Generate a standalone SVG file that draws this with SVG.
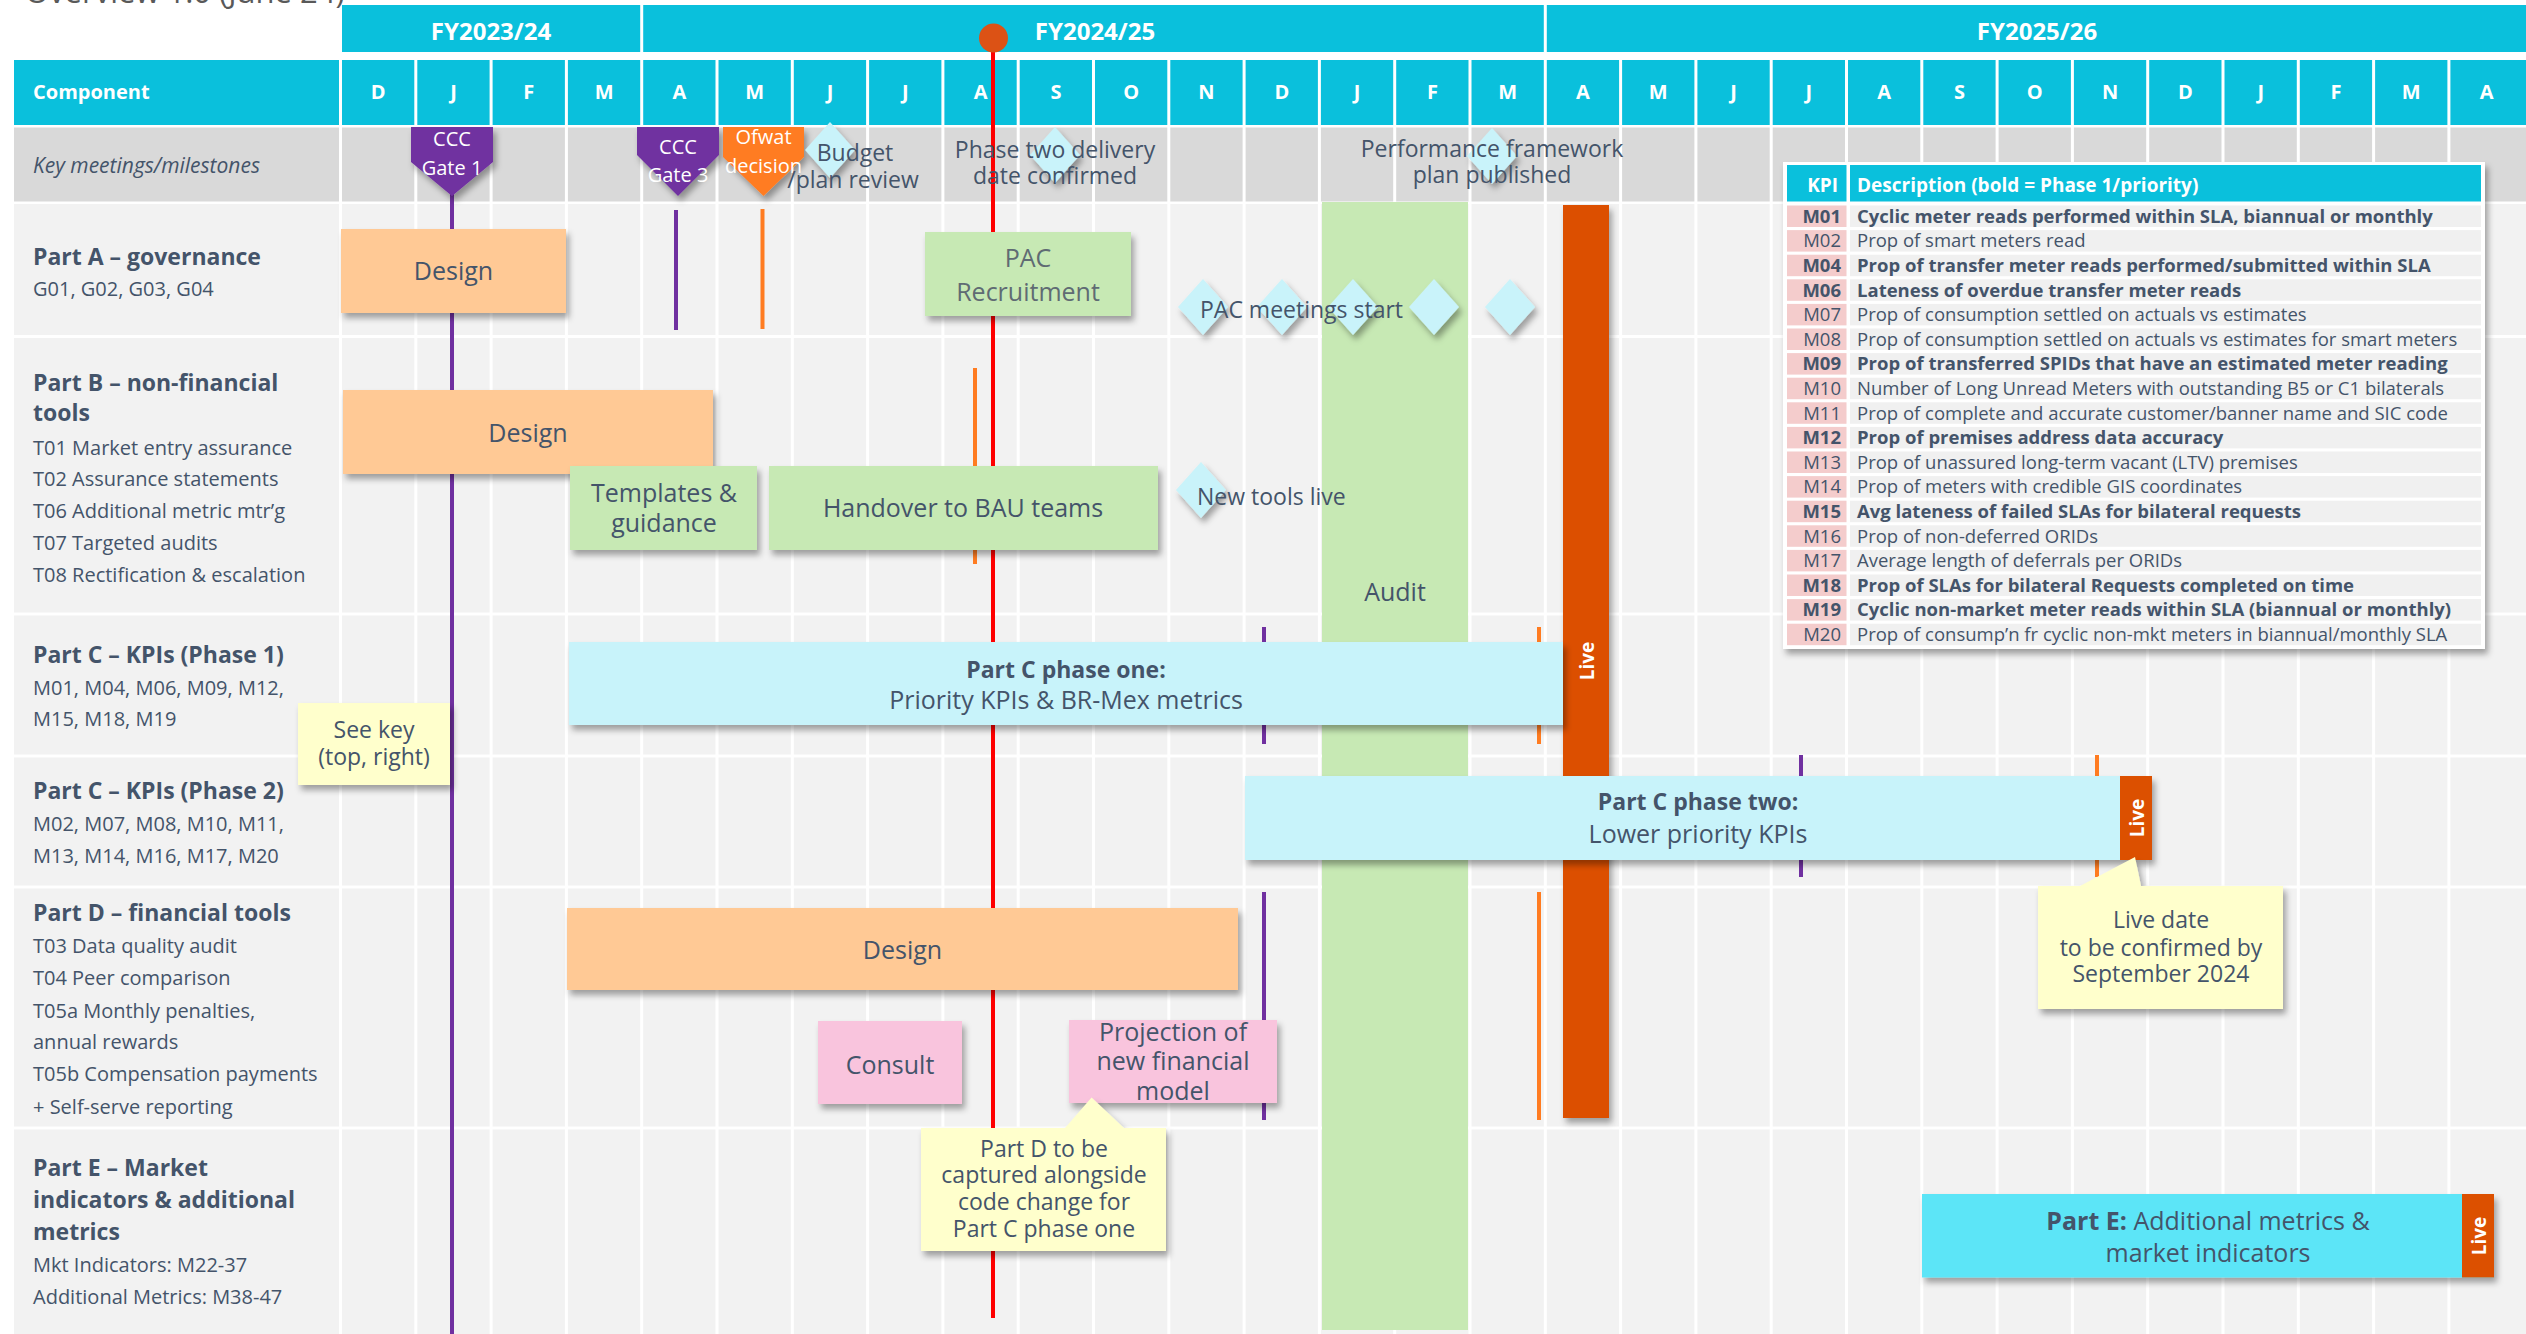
<svg xmlns="http://www.w3.org/2000/svg" width="2526" height="1334" viewBox="0 0 2526 1334">
<style>
.t{font-family:'Open Sans','Noto Sans','Liberation Sans',sans-serif;fill:#44546a}
.w{fill:#fff}
.b{font-weight:700}
.c{text-anchor:middle}
.e{text-anchor:end}
.sh{filter:url(#sh)}
.row{fill:#f2f2f2}
.hd{fill:#0ac0dc}
.peach{fill:#ffc995}
.green{fill:#c7e9b4}
.lcy{fill:#c8f3fa}
.pink{fill:#f9c4dd}
.note{fill:#ffffcc}
.live{fill:#dc5000}
.dia{fill:#c9f3fa}
.pur{stroke:#7030a0;stroke-width:4;fill:none}
.org{stroke:#ff7c21;stroke-width:4;fill:none}
.kp{fill:#f4cccc}
.kd{fill:#f0f0f0}
</style>
<defs>
<filter id="sh" x="-15%" y="-15%" width="140%" height="150%">
<feDropShadow dx="3" dy="5" stdDeviation="3" flood-color="#000" flood-opacity="0.35"/>
</filter>
<path id="dm" d="M0,-28 L25,0 L0,28 L-25,0Z"/>
</defs>
<rect width="2526" height="1334" fill="#fff"/>
<text class="t" x="25" y="3" font-size="31" style="fill:#595959">Overview 1.0 (June 24)</text>

<g id="grid">
<rect class="hd" x="342" y="5" width="2184" height="47"/>
<rect class="hd" x="14" y="60" width="2512" height="65"/>
<rect x="14" y="127.5" width="2512" height="74" fill="#d9d9d9"/>
<rect class="row" x="14" y="204" width="2512" height="131"/>
<rect class="row" x="14" y="338" width="2512" height="274.5"/>
<rect class="row" x="14" y="615.5" width="2512" height="139"/>
<rect class="row" x="14" y="757.5" width="2512" height="128"/>
<rect class="row" x="14" y="888.5" width="2512" height="238"/>
<rect class="row" x="14" y="1129.5" width="2512" height="204.5"/>
<path d="M641.7 5V52M1545.3 5V52" stroke="#fff" stroke-width="3"/>
<path d="M340.5 60V1334M415.8 60V1334M491.1 60V1334M566.4 60V1334M641.7 60V1334M717 60V1334M792.3 60V1334M867.6 60V1334M942.9 60V1334M1018.2 60V1334M1093.5 60V1334M1168.8 60V1334M1244.1 60V1334M1319.4 60V1334M1394.7 60V1334M1470 60V1334M1545.3 60V1334M1620.6 60V1334M1695.9 60V1334M1771.2 60V1334M1846.5 60V1334M1921.8 60V1334M1997.1 60V1334M2072.4 60V1334M2147.7 60V1334M2223 60V1334M2298.3 60V1334M2373.6 60V1334M2448.9 60V1334" stroke="#fff" stroke-width="3"/>
</g>

<g id="header" class="t w b" font-size="20">
<text class="w c" x="491" y="40" font-size="24">FY2023/24</text>
<text class="w c" x="1095" y="40" font-size="24">FY2024/25</text>
<text class="w c" x="2037" y="40" font-size="24">FY2025/26</text>
<text class="w" x="33" y="99">Component</text>
<g class="c">
<text class="w" x="378.2" y="99">D</text><text class="w" x="453.5" y="99">J</text><text class="w" x="528.8" y="99">F</text><text class="w" x="604.1" y="99">M</text>
<text class="w" x="679.4" y="99">A</text><text class="w" x="754.7" y="99">M</text><text class="w" x="830" y="99">J</text><text class="w" x="905.3" y="99">J</text>
<text class="w" x="980.6" y="99">A</text><text class="w" x="1055.9" y="99">S</text><text class="w" x="1131.2" y="99">O</text><text class="w" x="1206.5" y="99">N</text>
<text class="w" x="1281.8" y="99">D</text><text class="w" x="1357.1" y="99">J</text><text class="w" x="1432.4" y="99">F</text><text class="w" x="1507.7" y="99">M</text>
<text class="w" x="1583" y="99">A</text><text class="w" x="1658.3" y="99">M</text><text class="w" x="1733.6" y="99">J</text><text class="w" x="1808.9" y="99">J</text>
<text class="w" x="1884.2" y="99">A</text><text class="w" x="1959.5" y="99">S</text><text class="w" x="2034.8" y="99">O</text><text class="w" x="2110.1" y="99">N</text>
<text class="w" x="2185.4" y="99">D</text><text class="w" x="2260.7" y="99">J</text><text class="w" x="2336" y="99">F</text><text class="w" x="2411.3" y="99">M</text>
<text class="w" x="2486.6" y="99">A</text>
</g>
</g>

<g id="labels" class="t" font-size="20">
<text x="33" y="173" font-size="21" font-style="italic">Key meetings/milestones</text>
<text class="b" x="33" y="264.5" font-size="23">Part A – governance</text>
<text x="33" y="296">G01, G02, G03, G04</text>
<text class="b" x="33" y="390.5" font-size="23">Part B – non-financial</text>
<text class="b" x="33" y="421" font-size="23">tools</text>
<text x="33" y="454.5">T01 Market entry assurance</text>
<text x="33" y="486">T02 Assurance statements</text>
<text x="33" y="518">T06 Additional metric mtr’g</text>
<text x="33" y="550">T07 Targeted audits</text>
<text x="33" y="582">T08 Rectification &amp; escalation</text>
<text class="b" x="33" y="663" font-size="23">Part C – KPIs (Phase 1)</text>
<text x="33" y="695">M01, M04, M06, M09, M12,</text>
<text x="33" y="726">M15, M18, M19</text>
<text class="b" x="33" y="799" font-size="23">Part C – KPIs (Phase 2)</text>
<text x="33" y="830.5">M02, M07, M08, M10, M11,</text>
<text x="33" y="862.5">M13, M14, M16, M17, M20</text>
<text class="b" x="33" y="920.5" font-size="23">Part D – financial tools</text>
<text x="33" y="953">T03 Data quality audit</text>
<text x="33" y="985">T04 Peer comparison</text>
<text x="33" y="1017.5">T05a Monthly penalties,</text>
<text x="33" y="1049">annual rewards</text>
<text x="33" y="1081">T05b Compensation payments</text>
<text x="33" y="1113.5">+ Self-serve reporting</text>
<text class="b" x="33" y="1176" font-size="23">Part E – Market</text>
<text class="b" x="33" y="1208" font-size="23">indicators &amp; additional</text>
<text class="b" x="33" y="1240" font-size="23">metrics</text>
<text x="33" y="1271.5">Mkt Indicators: M22-37</text>
<text x="33" y="1303.5">Additional Metrics: M38-47</text>
</g>

<g id="audit">
<rect class="green" x="1322" y="202" width="146" height="1128"/>
<text class="t c" x="1395" y="600.5" font-size="25">Audit</text>
</g>

<g id="connectors">
<path d="M993 38V1318" stroke="#ff0000" stroke-width="4"/>
<path class="pur" d="M452 175V1334"/>
<path class="pur" d="M676 210V330"/>
<path class="org" d="M762.5 209V329"/>
<path class="org" d="M975 368V564"/>
<path class="pur" d="M1264 627V744M1264 892V1120M1801 755V877"/>
<path class="org" d="M1539 627V744M1539 892V1120M2097 755V877"/>
</g>

<g id="ccc-gate-1">
<path class="sh" d="M411 127H493V162L452 196L411 162Z" fill="#7030a0"/>
<text class="t w c" x="452" y="146" font-size="20">CCC</text>
<text class="t w c" x="452" y="175" font-size="20">Gate 1</text>
</g>
<g id="ccc-gate-3">
<path class="sh" d="M637 127H719V155L678 196L637 155Z" fill="#7030a0"/>
<text class="t w c" x="678" y="154" font-size="20">CCC</text>
<text class="t w c" x="678" y="182" font-size="20">Gate 3</text>
</g>
<g id="ofwat-decision">
<path class="sh" d="M723 127H804V157L763.5 196L723 157Z" fill="#ff7c21"/>
<text class="t w c" x="763.5" y="144" font-size="20">Ofwat</text>
<text class="t w c" x="763.5" y="173" font-size="20">decision</text>
</g>
<g id="budget-review">
<use href="#dm" x="830" y="150" class="dia sh"/>
<text class="t c" x="855" y="161" font-size="23">Budget</text>
<text class="t c" x="853" y="188" font-size="23">/plan review</text>
</g>
<g id="phase-two-date">
<use href="#dm" x="1055" y="155" class="dia sh"/>
<text class="t c" x="1055" y="158" font-size="23">Phase two delivery</text>
<text class="t c" x="1055" y="184" font-size="23">date confirmed</text>
</g>
<g id="performance-framework">
<use href="#dm" x="1492" y="156" class="dia sh"/>
<text class="t c" x="1492" y="157" font-size="23">Performance framework</text>
<text class="t c" x="1492" y="183" font-size="23">plan published</text>
</g>

<g id="a-design">
<rect class="peach sh" x="341" y="229" width="225" height="84"/>
<text class="t c" x="453.5" y="280" font-size="25">Design</text>
</g>
<g id="pac-recruitment">
<rect class="green sh" x="925" y="232" width="206" height="84"/>
<text class="t c" x="1028" y="267" font-size="25" style="fill:#5f6b73">PAC</text>
<text class="t c" x="1028" y="300.5" font-size="25" style="fill:#5f6b73">Recruitment</text>
</g>
<g id="pac-meetings">
<use href="#dm" x="1203" y="307" class="dia sh"/>
<use href="#dm" x="1282" y="307" class="dia sh"/>
<use href="#dm" x="1353" y="307" class="dia sh"/>
<use href="#dm" x="1434" y="307" class="dia sh"/>
<use href="#dm" x="1510" y="307" class="dia sh"/>
<text class="t" x="1200" y="318" font-size="23">PAC meetings start</text>
</g>

<g id="b-design">
<rect class="peach sh" x="343" y="390" width="370" height="84"/>
<text class="t c" x="528" y="442" font-size="25">Design</text>
</g>
<g id="templates">
<rect class="green sh" x="570" y="466" width="187" height="84"/>
<text class="t c" x="664" y="502" font-size="25">Templates &amp;</text>
<text class="t c" x="664" y="531.5" font-size="25">guidance</text>
</g>
<g id="handover">
<rect class="green sh" x="769" y="466" width="389" height="84"/>
<text class="t c" x="963" y="517" font-size="25">Handover to BAU teams</text>
</g>
<g id="new-tools-live">
<use href="#dm" x="1201" y="490" class="dia sh"/>
<text class="t" x="1197" y="505" font-size="23">New tools live</text>
</g>

<g id="live-main">
<rect class="live sh" x="1563" y="205" width="46" height="913"/>
<text class="t w b c" transform="translate(1587,661) rotate(-90)" y="7" font-size="19">Live</text>
</g>

<g id="c-phase-one">
<rect class="lcy sh" x="569" y="642" width="994" height="83"/>
<text class="t b c" x="1066" y="678" font-size="23">Part C phase one:</text>
<text class="t c" x="1066" y="709" font-size="25">Priority KPIs &amp; BR-Mex metrics</text>
</g>
<g id="see-key">
<rect class="note sh" x="298" y="703" width="152" height="82"/>
<text class="t c" x="374" y="738" font-size="23">See key</text>
<text class="t c" x="374" y="765" font-size="23">(top, right)</text>
</g>

<g id="c-phase-two">
<rect class="lcy sh" x="1245" y="776" width="907" height="84"/>
<rect class="live" x="2120" y="776" width="32" height="84"/>
<text class="t b c" x="1698" y="810" font-size="23">Part C phase two:</text>
<text class="t c" x="1698" y="843" font-size="25">Lower priority KPIs</text>
<text class="t w b c" transform="translate(2137,818) rotate(-90)" y="7" font-size="19">Live</text>
</g>
<g id="live-date-note">
<path class="note sh" d="M2038 886H2080L2135 857L2141 886H2283V1009H2038Z"/>
<text class="t c" x="2161" y="928" font-size="23">Live date</text>
<text class="t c" x="2161" y="955.5" font-size="23">to be confirmed by</text>
<text class="t c" x="2161" y="982" font-size="23">September 2024</text>
</g>

<g id="d-design">
<rect class="peach sh" x="567" y="908" width="671" height="82"/>
<text class="t c" x="902.5" y="958.5" font-size="25">Design</text>
</g>
<g id="consult">
<rect class="pink sh" x="818" y="1021" width="144" height="83"/>
<text class="t c" x="890" y="1073.5" font-size="25">Consult</text>
</g>
<g id="projection">
<rect class="pink sh" x="1069" y="1020" width="208" height="83"/>
<text class="t c" x="1173" y="1041" font-size="25">Projection of</text>
<text class="t c" x="1173" y="1069.5" font-size="25">new financial</text>
<text class="t c" x="1173" y="1099.5" font-size="25">model</text>
</g>
<g id="part-d-note">
<path class="note sh" d="M921 1128H1065L1091.6 1097.5L1124 1128H1166V1251H921Z"/>
<text class="t c" x="1044" y="1157" font-size="23">Part D to be</text>
<text class="t c" x="1044" y="1183" font-size="23">captured alongside</text>
<text class="t c" x="1044" y="1209.5" font-size="23">code change for</text>
<text class="t c" x="1044" y="1237" font-size="23">Part C phase one</text>
</g>

<g id="part-e">
<rect class="sh" x="1922" y="1194" width="572" height="83.5" fill="#5ce5f7"/>
<rect class="live" x="2462" y="1194" width="32" height="83.5"/>
<text class="t c" x="2208" y="1229.5" font-size="25"><tspan class="b">Part E:</tspan> Additional metrics &amp;</text>
<text class="t c" x="2208" y="1262" font-size="25">market indicators</text>
<text class="t w b c" transform="translate(2479,1236) rotate(-90)" y="7" font-size="19">Live</text>
</g>

<g id="kpi-table" class="t" font-size="18.5">
<rect class="sh" x="1783" y="162" width="702" height="487" fill="#fff"/>
<rect class="hd" x="1787" y="165" width="59.5" height="36.5"/>
<rect class="hd" x="1850" y="165" width="631" height="36.5"/>
<text class="w b e" x="1838" y="191.5" font-size="19">KPI</text>
<text class="w b" x="1857" y="191.5" font-size="19">Description (bold = Phase 1/priority)</text>
<g>
<rect class="kp" x="1787" y="205.5" width="59.5" height="21.5"/><rect class="kd" x="1850" y="205.5" width="631" height="21.5"/>
<rect class="kp" x="1787" y="230.1" width="59.5" height="21.5"/><rect class="kd" x="1850" y="230.1" width="631" height="21.5"/>
<rect class="kp" x="1787" y="254.7" width="59.5" height="21.5"/><rect class="kd" x="1850" y="254.7" width="631" height="21.5"/>
<rect class="kp" x="1787" y="279.3" width="59.5" height="21.5"/><rect class="kd" x="1850" y="279.3" width="631" height="21.5"/>
<rect class="kp" x="1787" y="303.9" width="59.5" height="21.5"/><rect class="kd" x="1850" y="303.9" width="631" height="21.5"/>
<rect class="kp" x="1787" y="328.5" width="59.5" height="21.5"/><rect class="kd" x="1850" y="328.5" width="631" height="21.5"/>
<rect class="kp" x="1787" y="353.1" width="59.5" height="21.5"/><rect class="kd" x="1850" y="353.1" width="631" height="21.5"/>
<rect class="kp" x="1787" y="377.7" width="59.5" height="21.5"/><rect class="kd" x="1850" y="377.7" width="631" height="21.5"/>
<rect class="kp" x="1787" y="402.3" width="59.5" height="21.5"/><rect class="kd" x="1850" y="402.3" width="631" height="21.5"/>
<rect class="kp" x="1787" y="426.9" width="59.5" height="21.5"/><rect class="kd" x="1850" y="426.9" width="631" height="21.5"/>
<rect class="kp" x="1787" y="451.5" width="59.5" height="21.5"/><rect class="kd" x="1850" y="451.5" width="631" height="21.5"/>
<rect class="kp" x="1787" y="476.1" width="59.5" height="21.5"/><rect class="kd" x="1850" y="476.1" width="631" height="21.5"/>
<rect class="kp" x="1787" y="500.7" width="59.5" height="21.5"/><rect class="kd" x="1850" y="500.7" width="631" height="21.5"/>
<rect class="kp" x="1787" y="525.3" width="59.5" height="21.5"/><rect class="kd" x="1850" y="525.3" width="631" height="21.5"/>
<rect class="kp" x="1787" y="549.9" width="59.5" height="21.5"/><rect class="kd" x="1850" y="549.9" width="631" height="21.5"/>
<rect class="kp" x="1787" y="574.5" width="59.5" height="21.5"/><rect class="kd" x="1850" y="574.5" width="631" height="21.5"/>
<rect class="kp" x="1787" y="599.1" width="59.5" height="21.5"/><rect class="kd" x="1850" y="599.1" width="631" height="21.5"/>
<rect class="kp" x="1787" y="623.7" width="59.5" height="21.5"/><rect class="kd" x="1850" y="623.7" width="631" height="21.5"/>
</g>
<g class="e">
<text class="b" x="1841" y="222.8">M01</text>
<text x="1841" y="247.4">M02</text>
<text class="b" x="1841" y="272">M04</text>
<text class="b" x="1841" y="296.6">M06</text>
<text x="1841" y="321.2">M07</text>
<text x="1841" y="345.8">M08</text>
<text class="b" x="1841" y="370.4">M09</text>
<text x="1841" y="395">M10</text>
<text x="1841" y="419.6">M11</text>
<text class="b" x="1841" y="444.2">M12</text>
<text x="1841" y="468.8">M13</text>
<text x="1841" y="493.4">M14</text>
<text class="b" x="1841" y="518">M15</text>
<text x="1841" y="542.6">M16</text>
<text x="1841" y="567.2">M17</text>
<text class="b" x="1841" y="591.8">M18</text>
<text class="b" x="1841" y="616.4">M19</text>
<text x="1841" y="641">M20</text>
</g>
<g>
<text class="b" x="1857" y="222.8">Cyclic meter reads performed within SLA, biannual or monthly</text>
<text x="1857" y="247.4">Prop of smart meters read</text>
<text class="b" x="1857" y="272">Prop of transfer meter reads performed/submitted within SLA</text>
<text class="b" x="1857" y="296.6">Lateness of overdue transfer meter reads</text>
<text x="1857" y="321.2">Prop of consumption settled on actuals vs estimates</text>
<text x="1857" y="345.8">Prop of consumption settled on actuals vs estimates for smart meters</text>
<text class="b" x="1857" y="370.4">Prop of transferred SPIDs that have an estimated meter reading</text>
<text x="1857" y="395">Number of Long Unread Meters with outstanding B5 or C1 bilaterals</text>
<text x="1857" y="419.6">Prop of complete and accurate customer/banner name and SIC code</text>
<text class="b" x="1857" y="444.2">Prop of premises address data accuracy</text>
<text x="1857" y="468.8">Prop of unassured long-term vacant (LTV) premises</text>
<text x="1857" y="493.4">Prop of meters with credible GIS coordinates</text>
<text class="b" x="1857" y="518">Avg lateness of failed SLAs for bilateral requests</text>
<text x="1857" y="542.6">Prop of non-deferred ORIDs</text>
<text x="1857" y="567.2">Average length of deferrals per ORIDs</text>
<text class="b" x="1857" y="591.8">Prop of SLAs for bilateral Requests completed on time</text>
<text class="b" x="1857" y="616.4">Cyclic non-market meter reads within SLA (biannual or monthly)</text>
<text x="1857" y="641">Prop of consump’n fr cyclic non-mkt meters in biannual/monthly SLA</text>
</g>
</g>

<g id="today-marker">
<circle cx="993.5" cy="38" r="14.5" fill="#dc5215"/>
</g>
</svg>
